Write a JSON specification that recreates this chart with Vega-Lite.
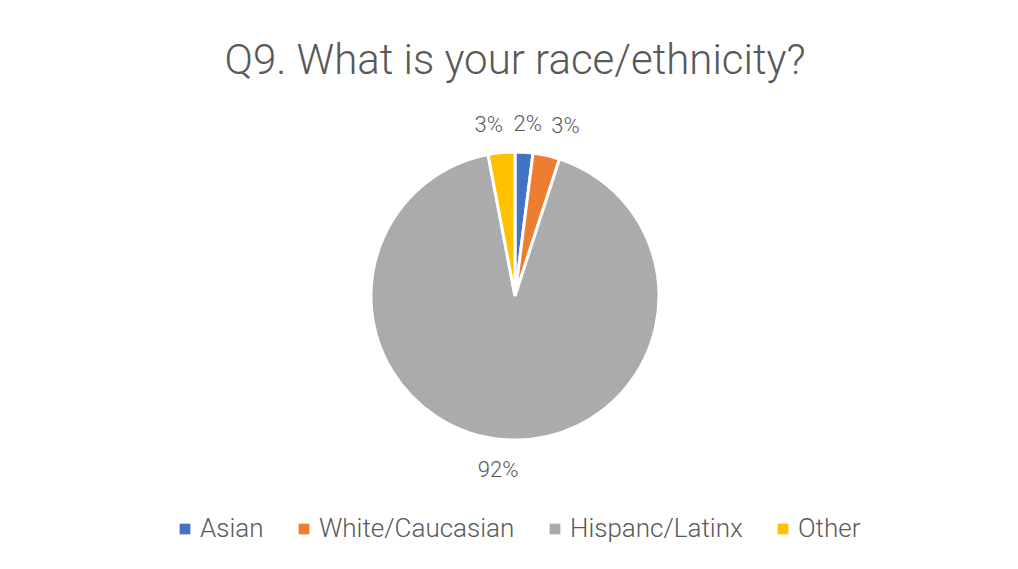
{
  "$schema": "https://vega.github.io/schema/vega-lite/v6.json",
  "width": 1022,
  "height": 576,
  "autosize": {"type": "none"},
  "padding": {"left": 4, "top": 8, "right": 0, "bottom": 0},
  "background": "white",
  "config": {
    "view": {"stroke": "#d9d9d9", "strokeWidth": 1},
    "font": "Roboto"
  },
  "title": {
    "text": "Q9. What is your race/ethnicity?",
    "font": "Roboto",
    "fontSize": 42,
    "fontWeight": 300,
    "color": "#595959",
    "anchor": "middle",
    "frame": "group",
    "baseline": "alphabetic",
    "offset": 0,
    "dy": 108
  },
  "data": {
    "values": [
      {"category": "Asian", "value": 2, "ord": 1, "label": "2%"},
      {"category": "White/Caucasian", "value": 3, "ord": 2, "label": "3%"},
      {"category": "Hispanc/Latinx", "value": 92, "ord": 3, "label": "92%"},
      {"category": "Other", "value": 3, "ord": 4, "label": "3%"}
    ]
  },
  "encoding": {
    "theta": {"field": "value", "type": "quantitative", "stack": true},
    "order": {"field": "ord", "type": "quantitative", "sort": "ascending"}
  },
  "layer": [
    {
      "mark": {"type": "arc", "outerRadius": 144, "stroke": "white", "strokeWidth": 3},
      "encoding": {
        "color": {
          "field": "category",
          "type": "nominal",
          "scale": {
            "domain": ["Asian", "White/Caucasian", "Hispanc/Latinx", "Other"],
            "range": ["#4472C4", "#ED7D31", "#ABABAE", "#FFC000"]
          },
          "legend": {
            "title": null,
            "orient": "none",
            "direction": "horizontal",
            "columns": 4,
            "legendX": 168,
            "legendY": 508,
            "padding": 0,
            "symbolType": "square",
            "symbolSize": 115,
            "symbolStrokeWidth": 0,
            "labelFontSize": 26,
            "labelFont": "Roboto",
            "labelFontWeight": 300,
            "labelColor": "#595959",
            "labelOffset": 2,
            "labelLimit": 0,
            "columnPadding": 27
          }
        }
      }
    },
    {
      "mark": {"type": "text", "radius": 172, "dx": 2, "fontSize": 22, "fontWeight": 300, "color": "#595959", "font": "Roboto"},
      "encoding": {
        "detail": {"field": "category", "type": "nominal"},
        "text": {"condition": {"test": "datum.category == 'Asian'", "field": "label"}, "value": ""}
      }
    },
    {
      "mark": {"type": "text", "radius": 172, "dx": 13, "dy": -2, "fontSize": 22, "fontWeight": 300, "color": "#595959", "font": "Roboto"},
      "encoding": {
        "detail": {"field": "category", "type": "nominal"},
        "text": {"condition": {"test": "datum.category == 'White/Caucasian'", "field": "label"}, "value": ""}
      }
    },
    {
      "mark": {"type": "text", "radius": 172, "dx": -6, "dy": 2, "fontSize": 22, "fontWeight": 300, "color": "#595959", "font": "Roboto"},
      "encoding": {
        "detail": {"field": "category", "type": "nominal"},
        "text": {"condition": {"test": "datum.category == 'Hispanc/Latinx'", "field": "label"}, "value": ""}
      }
    },
    {
      "mark": {"type": "text", "radius": 172, "dx": -10, "fontSize": 22, "fontWeight": 300, "color": "#595959", "font": "Roboto"},
      "encoding": {
        "detail": {"field": "category", "type": "nominal"},
        "text": {"condition": {"test": "datum.category == 'Other'", "field": "label"}, "value": ""}
      }
    }
  ]
}
